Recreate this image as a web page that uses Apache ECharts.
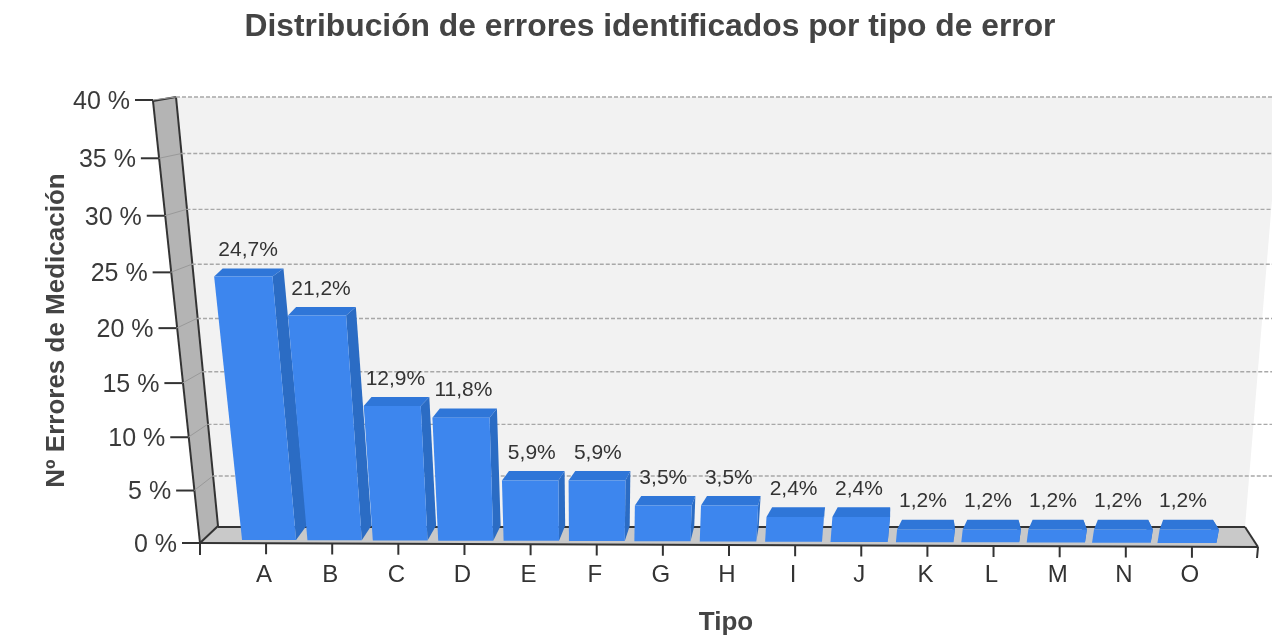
<!DOCTYPE html>
<html>
<head>
<meta charset="utf-8">
<style>
	html, body { margin: 0; padding: 0; background: #fff; }
	#chart-1 { width: 1272px; height: 639px; }
</style>
<script src="https://cdn.jsdelivr.net/npm/echarts@6/dist/echarts.min.js"></script>
</head>
<body>
<div id="chart-1"></div>
<script>
const tipos = ['A', 'B', 'C', 'D', 'E', 'F', 'G', 'H', 'I', 'J', 'K', 'L', 'M', 'N', 'O'];
const porcentajes = [24.7, 21.2, 12.9, 11.8, 5.9, 5.9, 3.5, 3.5, 2.4, 2.4, 1.2, 1.2, 1.2, 1.2, 1.2];
const marcasEje = [0, 5, 10, 15, 20, 25, 30, 35, 40];
const etiquetasEje = ['0 %', '5 %', '10 %', '15 %', '20 %', '25 %', '30 %', '35 %', '40 %'];

const FUENTE = '"Liberation Sans", Arial, sans-serif';
const GRID = { left: 233, right: 1225, top: 100, bottom: 543 };
const LINEA = '#333';

// perspectiva: la altura crece un poco hacia arriba
function curva(t) {
	return 0.94 * t + 0.06 * t * t;
}
function altura(api, valor) {
	let y = api.coord([0, valor])[1];
	return (GRID.bottom - y) / (GRID.bottom - GRID.top);
}
function yFrente(t) {
	return 543 - 443 * curva(t);
}
function yFondo(t) {
	return 527 - 430 * curva(t);
}
function linea(x1, y1, x2, y2, color, ancho, dash) {
	return {
		type: 'line',
		shape: { x1: x1, y1: y1, x2: x2, y2: y2 },
		style: { stroke: color, lineWidth: ancho, lineDash: dash || null }
	};
}
function poligono(puntos, color) {
	return { type: 'polygon', shape: { points: puntos }, style: { fill: color } };
}

function dibujarParedes() {
	return {
		type: 'group',
		children: [
			poligono([[176, 97], [1272, 97], [1272, 200], [1245, 527], [218, 527]], '#f2f2f2'),
			poligono([[153, 101], [176, 97], [218, 526], [200, 543]], '#b4b4b4'),
			poligono([[200, 543], [218, 526], [1245, 527], [1258, 547]], '#c9c9c9'),
			linea(153, 101, 176, 97, LINEA, 2),
			linea(153, 101, 200, 543, LINEA, 2),
			linea(176, 97, 218, 526, LINEA, 2),
			linea(200, 543, 218, 526, LINEA, 2),
			linea(218, 527, 1245, 527, LINEA, 2),
			linea(1245, 527, 1258, 547, LINEA, 2),
			linea(200, 555, 200, 543, LINEA, 2),
			linea(1258, 547, 1257, 558, LINEA, 2)
		]
	};
}

function dibujarMarca(params, api) {
	let i = params.dataIndex;
	let t = altura(api, api.value(1));
	let xF = 200 - 47 * t;
	let xB = 218 - 42 * t;
	let yF = yFrente(t);
	let yB = yFondo(t);
	let hijos = [
		linea(xF - 18, yF, xF, yF, LINEA, 2),
		{
			type: 'text',
			style: {
				text: etiquetasEje[i],
				x: xF - 23,
				y: yF + 2,
				align: 'right',
				verticalAlign: 'middle',
				fill: '#3a3a3a',
				font: '25px ' + FUENTE
			}
		}
	];
	if (api.value(1) > 0) {
		hijos.push(linea(xF, yF, xB, yB, '#999', 1));
		hijos.push(linea(xB, yB, 1272, yB, '#a8a8a8', 1.4, [4, 2]));
	}
	return { type: 'group', children: hijos };
}

function dibujarBarra(params, api) {
	let c = api.coord([api.value(0), 0])[0];
	let t = altura(api, api.value(1));
	let avance = (c - 266) / 926;
	let centro = c + 3 - 8 * avance;
	let mitad = (54 + 5 * avance) / 2;
	let base = 540 + 3 * avance;
	let arriba = yFrente(t) - 1 + 3 * t;

	// desplazamiento horizontal segun la altura
	let desplazar = function(x) {
		return x - 0.13 * (590 - x) * t;
	};
	let izq = centro - mitad;
	let der = centro + mitad;
	let fondoIzq = 8.5 - 5 * avance;
	let fondoDer = 11 - 17 * avance;
	let subeArriba = 10 - 3 * t;
	let subeBase = 15;

	let ai = [desplazar(izq), arriba];
	let ad = [desplazar(der), arriba];
	let bi = [ai[0] + fondoIzq, arriba - subeArriba];
	let bd = [ad[0] + fondoDer, arriba - subeArriba];

	let hijos = [
		poligono([ad, bd, [der + fondoDer, base - subeBase], [der, base]], '#2b6cc4'),
		poligono([ai, bi, bd, ad], '#2f76d8'),
		poligono([ai, ad, [der, base], [izq, base]], '#3d86ee'),
		{
			type: 'text',
			style: {
				text: api.value(1).toFixed(1).replace('.', ',') + '%',
				x: (bi[0] + bd[0]) / 2 - 5,
				y: bi[1] - 18,
				align: 'center',
				verticalAlign: 'middle',
				fill: '#333',
				font: '21px ' + FUENTE
			}
		}
	];
	return { type: 'group', children: hijos };
}

function dibujarEjeX(params, api) {
	let c = api.coord([api.value(0), 0])[0];
	let y = 543 + 4 * (c - 200) / 1058;
	return { type: 'group', children: [linea(c, y, c, y + 11, LINEA, 2)] };
}

let myChart = echarts.init(document.getElementById('chart-1'));
let option = {
	animation: false,
	backgroundColor: '#fff',
	title: {
		text: 'Distribución de errores identificados por tipo de error',
		left: 645,
		top: 6,
		textAlign: 'center',
		textStyle: { fontFamily: FUENTE, fontSize: 31.8, fontWeight: 'bold', color: '#444' }
	},
	grid: {
		left: GRID.left,
		right: 1272 - GRID.right,
		top: GRID.top,
		bottom: 639 - GRID.bottom,
		outerBoundsMode: 'none'
	},
	xAxis: {
		type: 'category',
		data: tipos,
		name: 'Tipo',
		nameLocation: 'middle',
		nameGap: 67,
		nameTextStyle: { fontFamily: FUENTE, fontSize: 26, fontWeight: 'bold', color: '#444', padding: [0, 6, 0, 0] },
		axisLine: { show: false },
		axisTick: { show: false },
		axisLabel: { fontFamily: FUENTE, fontSize: 24, color: '#333', margin: 20, padding: [0, 4, 0, 0] }
	},
	yAxis: {
		type: 'value',
		min: 0,
		max: 40,
		interval: 5,
		name: 'Nº Errores de Medicación',
		nameLocation: 'middle',
		nameGap: 163,
		nameTextStyle: { fontFamily: FUENTE, fontSize: 26, fontWeight: 'bold', color: '#444', padding: [0, 18, 0, 0] },
		axisLine: { show: false },
		axisTick: { show: false },
		axisLabel: { show: false },
		splitLine: { show: false }
	},
	series: [
		{ type: 'custom', silent: true, z: 1, renderItem: dibujarParedes, data: [[0, 0]] },
		{
			type: 'custom', silent: true, z: 2, renderItem: dibujarMarca,
			data: marcasEje.map(function(m) { return [0, m]; })
		},
		{
			type: 'custom', silent: true, z: 3, renderItem: dibujarEjeX,
			data: tipos.map(function(n, i) { return [i, 0]; })
		},
		{
			type: 'custom', silent: true, z: 4, renderItem: function() {
				return linea(200, 543, 1258, 547, LINEA, 2);
			},
			data: [[0, 0]]
		},
		{
			type: 'custom', silent: true, z: 5, renderItem: dibujarBarra,
			data: porcentajes.map(function(v, i) { return [i, v]; })
		}
	]
};
myChart.setOption(option);
</script>
</body>
</html>
